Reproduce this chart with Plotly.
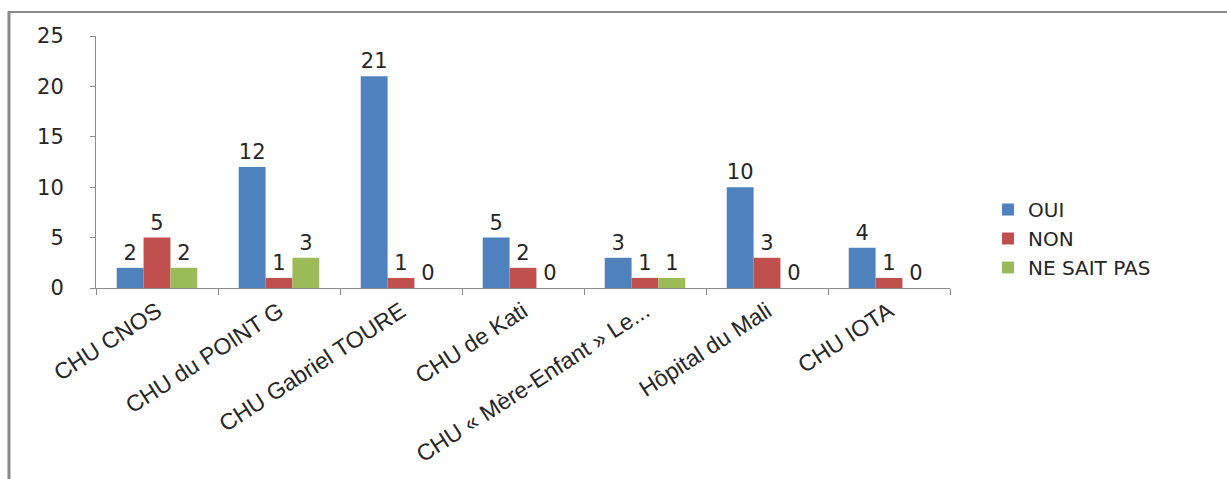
import plotly.graph_objects as go

categories = ["CHU CNOS", "CHU du POINT G", "CHU Gabriel TOURE", "CHU de Kati",
              "CHU « Mère-Enfant » Le...", "Hôpital du Mali", "CHU IOTA"]
oui = [2, 12, 21, 5, 3, 10, 4]
non = [5, 1, 1, 2, 1, 3, 1]
ne_sait_pas = [2, 3, 0, 0, 1, 0, 0]
series_names = ["OUI", "NON", "NE SAIT PAS"]
colors = ["#4F81BD", "#C0504D", "#9BBB59"]

W, H = 1227, 479
L, R, T, B = 96, 277, 36, 191
pw, ph = W - L - R, H - T - B

fig = go.Figure()
for name, vals, col in zip(series_names, [oui, non, ne_sait_pas], colors):
    fig.add_trace(go.Bar(
        x=categories, y=vals, name=name, marker_color=col, marker_line_width=0,
        text=[str(v) for v in vals], textposition="outside", cliponaxis=False,
        textfont=dict(family="DejaVu Sans", size=21, color="#262626"),
    ))

def px_x(v):
    return (v - L) / pw

def px_y(v):
    return (H - B - v) / ph

fig.update_layout(
    width=W, height=H,
    margin=dict(l=L, r=R, t=T, b=B, autoexpand=False),
    paper_bgcolor="white", plot_bgcolor="white",
    barmode="group", bargap=0.34, bargroupgap=0,
    showlegend=True,
    legend=dict(x=px_x(988), y=px_y(190), xanchor="left", yanchor="top",
                font=dict(family="DejaVu Sans", size=20, color="#262626"),
                tracegroupgap=1, bgcolor="rgba(0,0,0,0)"),
    xaxis=dict(type="category", showline=True, linecolor="#8c8c8c", linewidth=1,
               ticks="outside", tickson="boundaries", ticklen=6, tickcolor="#8c8c8c",
               tickangle=-33, showgrid=False,
               tickfont=dict(family="Liberation Sans", size=23, color="#262626")),
    yaxis=dict(range=[0, 25], dtick=5, showline=True, linecolor="#8c8c8c", linewidth=1,
               ticks="outside", ticklen=5, tickcolor="#8c8c8c", showgrid=False,
               zeroline=False, ticklabelstandoff=22,
               tickfont=dict(family="DejaVu Sans", size=21, color="#262626")),
    shapes=[
        dict(type="line", xref="paper", yref="paper", x0=px_x(9), x1=px_x(9),
             y0=px_y(11), y1=px_y(H), line=dict(color="#8a8a8a", width=3)),
        dict(type="line", xref="paper", yref="paper", x0=px_x(8), x1=px_x(W),
             y0=px_y(12), y1=px_y(12), line=dict(color="#8a8a8a", width=2)),
    ],
)

fig.write_html("out.html")
